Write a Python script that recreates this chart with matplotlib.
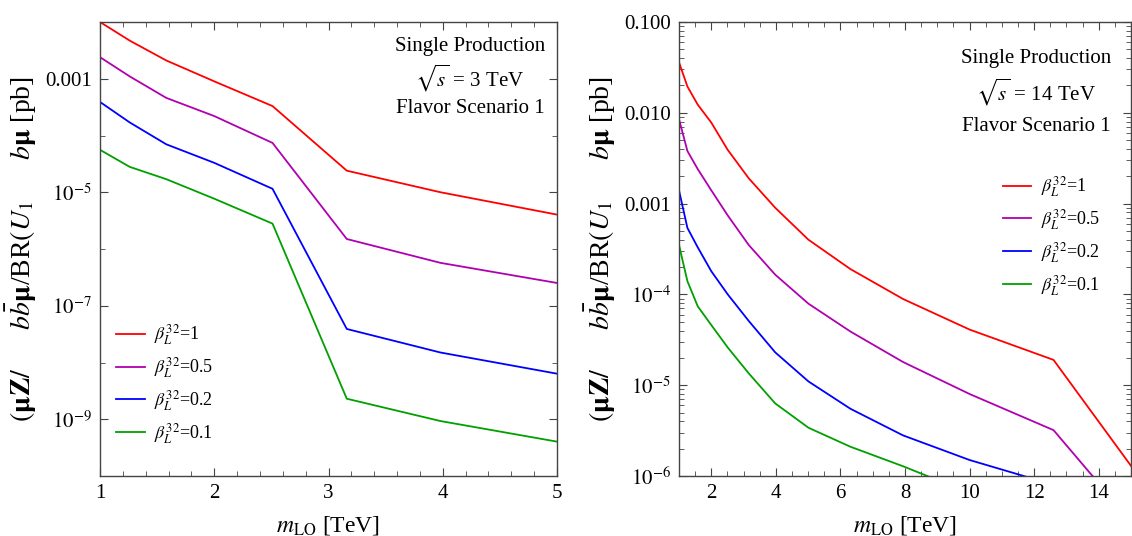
import matplotlib
matplotlib.use("Agg")
import matplotlib.pyplot as plt
import numpy as np
from matplotlib.ticker import FixedLocator, NullFormatter, LogLocator

plt.rcParams["font.family"] = ["Liberation Serif", "DejaVu Serif"]
plt.rcParams["mathtext.fontset"] = "stix"

# leptoquark masses (TeV), log spaced points
m_3 = [1.0, 1.26, 1.58, 2.0, 2.51, 3.16, 3.98, 5.01]
m_14 = [1.0, 1.26, 1.58, 2.0, 2.51, 3.16, 3.98, 5.01, 6.31, 7.94, 10.0, 12.6, 15.85]

labels = ["1", "0.5", "0.2", "0.1"]
colors = ["#ff0000", "#b000b0", "#0000ff", "#00a000"]

# sqrt(s) = 3 TeV
xs3_b1 = [1.0e-2, 4.7e-3, 2.1e-3, 9.0e-4, 3.3e-4, 2.4e-5, 1.0e-5, 4.0e-6]
xs3_b05 = [2.4e-3, 1.1e-3, 4.6e-4, 2.2e-4, 7.4e-5, 1.5e-6, 5.7e-7, 2.5e-7]
xs3_b02 = [3.9e-4, 1.7e-4, 7.0e-5, 3.3e-5, 1.15e-5, 3.9e-8, 1.5e-8, 6.3e-9]
xs3_b01 = [5.6e-5, 2.8e-5, 1.7e-5, 7.7e-6, 2.8e-6, 2.3e-9, 9.3e-10, 4.0e-10]

# sqrt(s) = 14 TeV
xs14_b1 = [3.6e-2, 1.95e-2, 1.23e-2, 7.8e-3, 3.9e-3, 1.9e-3, 9.0e-4, 4.0e-4,
           1.9e-4, 8.9e-5, 4.1e-5, 1.9e-5, 5.0e-7]
xs14_b05 = [8.5e-3, 3.8e-3, 2.4e-3, 1.4e-3, 7.4e-4, 3.5e-4, 1.65e-4, 7.9e-5,
            3.9e-5, 1.8e-5, 8.0e-6, 3.2e-6, 1.4e-7]
xs14_b02 = [1.4e-3, 5.4e-4, 3.3e-4, 1.8e-4, 1.0e-4, 5.1e-5, 2.3e-5, 1.1e-5,
            5.5e-6, 2.8e-6, 1.5e-6, 8.0e-7, 3.0e-7]
xs14_b01 = [3.5e-4, 1.4e-4, 7.4e-5, 4.6e-5, 2.6e-5, 1.35e-5, 6.3e-6, 3.4e-6,
            2.1e-6, 1.28e-6, 6.5e-7, 3.0e-7, 1.0e-7]

ylab = (r"$(\mathbf{\mu Z}/\qquad b\bar{b}\mathbf{\mu}$/BR$(U_1\qquad b\mathbf{\mu}$ [pb]")
frame = "#444444"

fig = plt.figure(figsize=(11.32, 5.36), dpi=100)
W, H = 1132.0, 536.0
ax1 = fig.add_axes([100 / W, 60 / H, 457 / W, 454 / H])
ax2 = fig.add_axes([679 / W, 60 / H, 452 / W, 454 / H])


def style(ax):
    for s in ax.spines.values():
        s.set_color(frame)
        s.set_linewidth(1.0)
    ax.tick_params(which="both", direction="in", top=True, right=True,
                   color=frame, labelsize=15, pad=6)
    ax.tick_params(which="major", length=6)
    ax.tick_params(which="minor", length=3.5)
    ax.set_xlabel(r"$m_{\rm LO}$ [TeV]", fontsize=17, labelpad=8)
    ax.set_ylabel(ylab, fontsize=20, labelpad=4)


# left panel
for ys, lab, c in zip([xs3_b1, xs3_b05, xs3_b02, xs3_b01], labels, colors):
    ax1.plot(m_3, ys, color=c, lw=1.3, label=r"$\beta_L^{32}$=" + lab)
ax1.set_yscale("log")
ax1.set_xlim(1, 5)
ax1.set_ylim(1e-10, 1e-2)
ax1.yaxis.set_major_locator(FixedLocator([1e-9, 1e-7, 1e-5, 1e-3]))
ax1.yaxis.set_minor_locator(FixedLocator([1e-10, 1e-8, 1e-6, 1e-4, 1e-2]))
ax1.yaxis.set_minor_formatter(NullFormatter())
ax1.set_yticklabels([r"$10^{-9}$", r"$10^{-7}$", r"$10^{-5}$", "0.001"])
ax1.set_xticks([1, 2, 3, 4, 5])
ax1.set_xticks(np.arange(1, 5.01, 0.2), minor=True)
style(ax1)
ax1.text(0.81, 0.945, "Single Production", transform=ax1.transAxes,
         ha="center", va="center", fontsize=15)
ax1.text(0.81, 0.875, r"$\sqrt{s}$ = 3 TeV", transform=ax1.transAxes,
         ha="center", va="center", fontsize=15)
ax1.text(0.81, 0.81, "Flavor Scenario 1", transform=ax1.transAxes,
         ha="center", va="center", fontsize=15)
ax1.legend(loc="lower left", bbox_to_anchor=(0.0, 0.03), frameon=False,
           fontsize=13, handlelength=1.6, handletextpad=0.5, labelspacing=0.45)

# right panel
for ys, lab, c in zip([xs14_b1, xs14_b05, xs14_b02, xs14_b01], labels, colors):
    ax2.plot(m_14, ys, color=c, lw=1.3, label=r"$\beta_L^{32}$=" + lab)
ax2.set_yscale("log")
ax2.set_xlim(1, 15)
ax2.set_ylim(1e-6, 0.1)
ax2.yaxis.set_major_locator(FixedLocator([1e-6, 1e-5, 1e-4, 1e-3, 1e-2, 1e-1]))
ax2.yaxis.set_minor_locator(LogLocator(base=10, subs=np.arange(2, 10)))
ax2.yaxis.set_minor_formatter(NullFormatter())
ax2.set_yticklabels([r"$10^{-6}$", r"$10^{-5}$", r"$10^{-4}$",
                     "0.001", "0.010", "0.100"])
ax2.set_xticks([2, 4, 6, 8, 10, 12, 14])
ax2.set_xticks(np.arange(1, 15.01, 0.5), minor=True)
style(ax2)
ax2.text(0.79, 0.92, "Single Production", transform=ax2.transAxes,
         ha="center", va="center", fontsize=15)
ax2.text(0.79, 0.845, r"$\sqrt{s}$ = 14 TeV", transform=ax2.transAxes,
         ha="center", va="center", fontsize=15)
ax2.text(0.79, 0.77, "Flavor Scenario 1", transform=ax2.transAxes,
         ha="center", va="center", fontsize=15)
ax2.legend(loc="upper left", bbox_to_anchor=(0.68, 0.7), frameon=False,
           fontsize=13, handlelength=1.6, handletextpad=0.5, labelspacing=0.45)

fig.savefig("out.png", dpi=100)
